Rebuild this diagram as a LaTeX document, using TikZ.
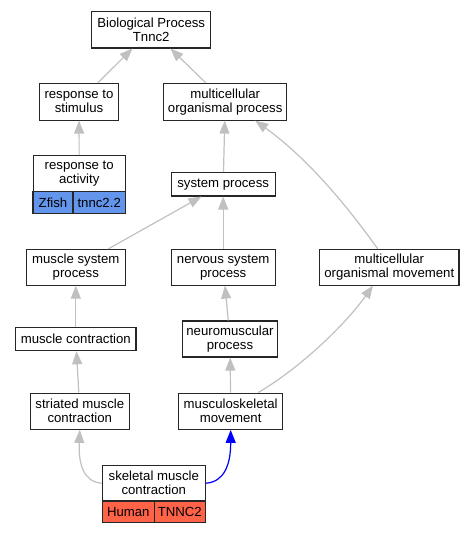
\documentclass[tikz,border=0pt]{standalone}
\usepackage{fontspec}
\setmainfont{Liberation Sans}
\usetikzlibrary{arrows.meta, calc}
\definecolor{edgegray}{RGB}{192,192,192}
\definecolor{zfishblue}{RGB}{100,149,237}
\definecolor{humanred}{RGB}{255,99,71}
\tikzset{>={Triangle[length=13pt, width=10pt]}}
\tikzset{term/.style={draw=black!85, line width=1.1pt, fill=white, align=center, inner sep=0pt,
    font=\fontsize{13.2}{14}\selectfont}}
\tikzset{isa/.style={->, draw=edgegray, line width=1.2pt}}

\begin{document}
\begin{tikzpicture}[x=1pt, y=-1pt]
    \useasboundingbox (0,0) rectangle (475,533);
    \node [term, minimum width=119, minimum height=36.3] (bp) at (151.2,29.8) {Biological Process\\Tnnc2};
    \node [term, minimum width=79.4, minimum height=36.7] (stim) at (79,101.7) {response to\\stimulus};
    \node [term, minimum width=123, minimum height=36.7] (mop) at (225.2,101.7) {multicellular\\organismal process};
    \node [term, minimum width=92.3, minimum height=36] (act) at (79.2,173.7) {response to\\activity};
    \node [term, fill=zfishblue, minimum width=40, minimum height=21.6] (actz) at (53,202.5) {Zfish};
    \node [term, fill=zfishblue, minimum width=52.3, minimum height=21.6] (actg) at (99.2,202.5) {tnnc2.2};
    \node [term, minimum width=103.7, minimum height=23.3] (sysp) at (223.2,184.3) {system process};
    \node [term, minimum width=99, minimum height=35.7] (msp) at (75.8,267.2) {muscle system\\process};
    \node [term, minimum width=103.7, minimum height=35.7] (nsp) at (223.2,267.2) {nervous system\\process};
    \node [term, minimum width=139.3, minimum height=35.7] (mom) at (389.3,267.2) {multicellular\\organismal movement};
    \node [term, minimum width=120.3, minimum height=23] (mc) at (75.8,339.2) {muscle contraction};
    \node [term, minimum width=94.6, minimum height=36] (nmp) at (230,339) {neuromuscular\\process};
    \node [term, minimum width=99, minimum height=36.3] (smc) at (79.8,411.2) {striated muscle\\contraction};
    \node [term, minimum width=104, minimum height=36.3] (msm) at (230.7,411.2) {musculoskeletal\\movement};
    \node [term, minimum width=103, minimum height=35.7] (skm) at (153.8,483.2) {skeletal muscle\\contraction};
    \node [term, fill=humanred, minimum width=52, minimum height=21.7] (skh) at (128.3,511.8) {Human};
    \node [term, fill=humanred, minimum width=51, minimum height=21.7] (skg) at (179.8,511.8) {TNNC2};

    \draw [isa] (stim) -- (bp);
    \draw [isa] (mop) -- (bp);
    \draw [isa] (act) -- (stim);
    \draw [isa] (sysp) -- (mop);
    \draw [isa] ($(mom.north)+(-11.6,0)$) .. controls (350,210) and (310,160) .. ($(mop.south)+(30,0)$);
    \draw [isa] (msp) -- (sysp);
    \draw [isa] (nsp) -- (sysp);
    \draw [isa] (mc) -- (msp);
    \draw [isa] (nmp) -- (nsp);
    \draw [isa] (smc) -- (mc);
    \draw [isa] (msm) -- (nmp);
    \draw [isa] ($(msm.north)+(27.6,0)$) .. controls (300,368) and (345,325) .. ($(mom.south)+(-16.3,0)$);
    \draw [isa] (skm.west) .. controls (84,482) and (78.3,465) .. (smc.south);
    \draw [isa, draw=blue] (skm.east) .. controls (224,482) and (230.7,465) .. (msm.south);
\end{tikzpicture}
\end{document}
